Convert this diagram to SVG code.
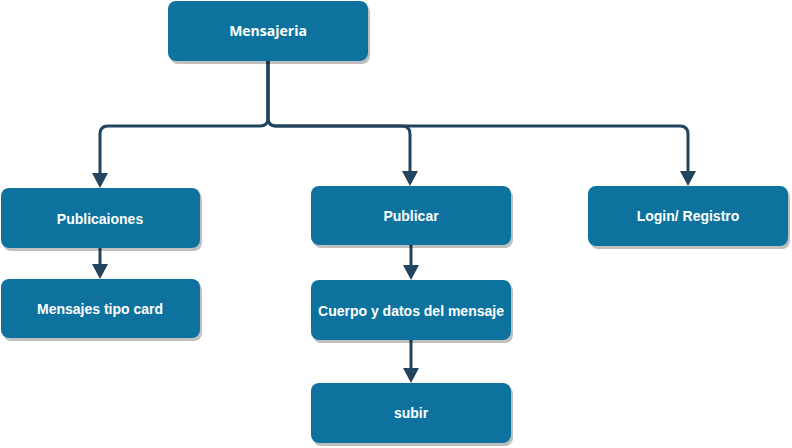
<svg xmlns="http://www.w3.org/2000/svg" width="792" height="448" viewBox="0 0 792 448">
  <style>
    .box { fill: #10739E; filter: url(#sh); }
    .lbl { fill: #FFFFFF; font-family: "Liberation Sans", Arial, sans-serif; font-weight: bold; font-size: 14px; text-anchor: middle; }
    .lbl2 { fill: #FFFFFF; font-family: "Open Sans", "Liberation Sans", sans-serif; font-weight: bold; font-size: 14px; text-anchor: middle; }
    .edge { fill: none; stroke: #23445D; stroke-width: 3; marker-end: url(#arr); }
  </style>
  <defs>
    <filter id="sh" x="-10%" y="-10%" width="130%" height="140%">
      <feDropShadow dx="2" dy="3" stdDeviation="0.6" flood-color="#000000" flood-opacity="0.25"/>
    </filter>
    <marker id="arr" viewBox="0 0 15 16" refX="5" refY="8" markerWidth="15" markerHeight="16" markerUnits="userSpaceOnUse" orient="auto">
      <polygon points="0,0 15,8 0,16" fill="#23445D"/>
    </marker>
  </defs>
  <rect width="792" height="448" fill="#FFFFFF"/>
  <g id="connectors">
    <path class="edge" d="M268,61 V118 Q268,126 260,126 H108 Q100,126 100,134 V178"/>
    <path class="edge" d="M268,61 V118 Q268,126 276,126 H402 Q410,126 410,134 V176"/>
    <path class="edge" d="M268,61 V118 Q268,126 276,126 H680 Q688,126 688,134 V176"/>
    <path class="edge" d="M100,248 V269"/>
    <path class="edge" d="M411,245 V270"/>
    <path class="edge" d="M411,340 V373"/>
  </g>
  <g id="node-mensajeria">
    <rect class="box" x="168" y="1" width="200" height="60" rx="8"/>
    <text class="lbl2" x="268" y="36">Mensajeria</text>
  </g>
  <g id="node-publicaiones">
    <rect class="box" x="1" y="188" width="199" height="60" rx="8"/>
    <text class="lbl" x="100" y="224">Publicaiones</text>
  </g>
  <g id="node-mensajes">
    <rect class="box" x="1" y="279" width="199" height="59" rx="8"/>
    <text class="lbl" x="100" y="314">Mensajes tipo card</text>
  </g>
  <g id="node-publicar">
    <rect class="box" x="311" y="186" width="200" height="59" rx="8"/>
    <text class="lbl" x="411" y="221">Publicar</text>
  </g>
  <g id="node-cuerpo">
    <rect class="box" x="311" y="280" width="200" height="60" rx="8"/>
    <text class="lbl" x="411" y="316">Cuerpo y datos del mensaje</text>
  </g>
  <g id="node-subir">
    <rect class="box" x="311" y="383" width="200" height="60" rx="8"/>
    <text class="lbl" x="411" y="418">subir</text>
  </g>
  <g id="node-login">
    <rect class="box" x="588" y="186" width="200" height="60" rx="8"/>
    <text class="lbl" x="688" y="221">Login/ Registro</text>
  </g>
</svg>
